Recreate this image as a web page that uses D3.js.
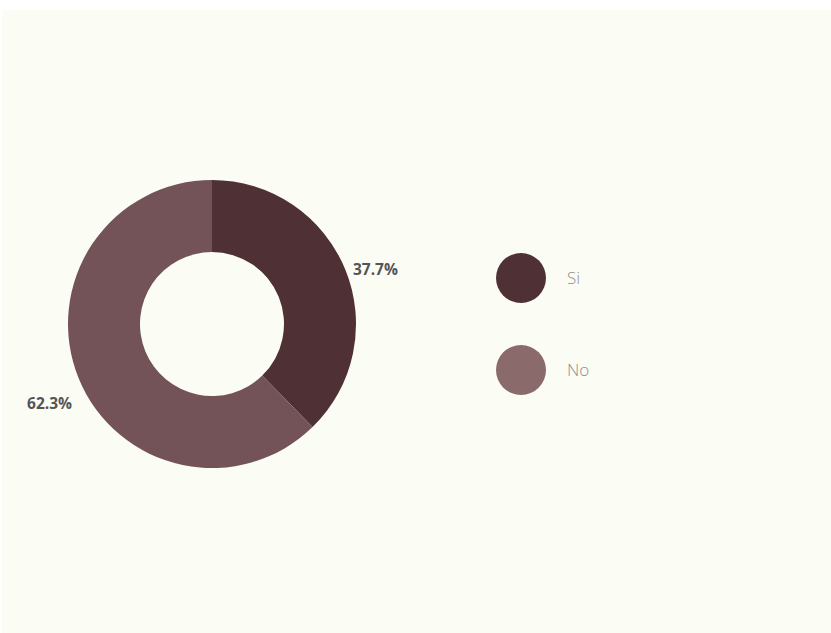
<!DOCTYPE html>
<html>
<head>
<meta charset="utf-8">
<script src="https://cdn.jsdelivr.net/npm/d3@7"></script>
<style>
  html, body { margin: 0; padding: 0; background: #ffffff; }
  svg { display: block; }
</style>
</head>
<body>
<svg id="chart" width="831" height="633"></svg>
<script>
const categories = ["Si", "No"];
const values = [37.7, 62.3];
const sliceColors = ["#4f3034", "#735358"];
const legendColors = ["#4f3034", "#8a6a6b"];
const labelTexts = ["37.7%", "62.3%"];

const svg = d3.select("#chart");
svg.append("rect").attr("x", 2).attr("y", 10).attr("width", 829).attr("height", 623).attr("fill", "#fbfcf4");

const cx = 212, cy = 324, outerR = 144, innerR = 72;
const g = svg.append("g").attr("transform", `translate(${cx},${cy})`);

const pie = d3.pie().sort(null).value(d => d.value);
const data = categories.map((c, i) => ({ cat: c, value: values[i], i }));
const arcs = pie(data);
const arc = d3.arc().innerRadius(innerR).outerRadius(outerR);

g.selectAll("path.slice").data(arcs).join("path")
  .attr("class", "slice")
  .attr("d", arc)
  .attr("fill", d => sliceColors[d.data.i]);

const labelR = 150;
const labelDy = [2, 23];
g.selectAll("text.lbl").data(arcs).join("text")
  .attr("class", "lbl")
  .attr("x", d => { const a = (d.startAngle + d.endAngle) / 2; return Math.sin(a) * labelR + (Math.sin(a) >= 0 ? 2 : -1); })
  .attr("y", d => { const a = (d.startAngle + d.endAngle) / 2; return -Math.cos(a) * labelR + labelDy[d.data.i]; })
  .attr("dy", "0.35em")
  .attr("text-anchor", d => Math.sin((d.startAngle + d.endAngle) / 2) >= 0 ? "start" : "end")
  .attr("font-family", "'Open Sans', sans-serif")
  .attr("font-weight", 700)
  .attr("font-size", 15.5)
  .attr("fill", "#555555")
  .text((d, i) => labelTexts[i]);

const legendY = d3.scalePoint().domain(categories).range([278, 370]);
const leg = svg.append("g");
const items = leg.selectAll("g.item").data(categories).join("g")
  .attr("class", "item")
  .attr("transform", d => `translate(521,${legendY(d)})`);
items.append("circle").attr("r", 25).attr("fill", (d, i) => legendColors[i]);
items.append("text")
  .attr("x", 46).attr("dy", "0.35em")
  .attr("font-family", "'Open Sans', sans-serif")
  .attr("font-weight", 300)
  .attr("font-size", 17)
  .attr("fill", "#8f8f8f")
  .text(d => d);
</script>
</body>
</html>
